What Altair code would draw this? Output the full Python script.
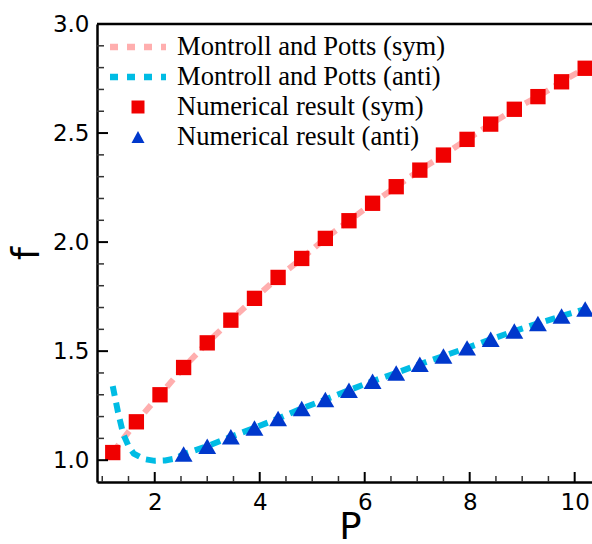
import altair as alt
import pandas as pd

# ---- data -------------------------------------------------------------
series = [
    "Montroll and Potts (sym)",
    "Montroll and Potts (anti)",
    "Numerical result (sym)",
    "Numerical result (anti)",
]
colors = ["#FFAEAE", "#00BCE4", "#F00000", "#0038CC"]

# numerical results
p_sym = [1.2, 1.65, 2.1, 2.55, 3.0, 3.45, 3.9, 4.35, 4.8, 5.25, 5.7,
         6.15, 6.6, 7.05, 7.5, 7.95, 8.4, 8.85, 9.3, 9.75, 10.2]
f_sym = [1.035, 1.176, 1.300, 1.425, 1.538, 1.642, 1.742, 1.838, 1.925, 2.017, 2.098,
         2.178, 2.254, 2.330, 2.399, 2.471, 2.541, 2.609, 2.667, 2.735, 2.797]

p_anti = [2.55, 3.0, 3.45, 3.9, 4.35, 4.8, 5.25, 5.7, 6.15, 6.6, 7.05,
          7.5, 7.95, 8.4, 8.85, 9.3, 9.75, 10.2]
f_anti = [1.028, 1.064, 1.107, 1.148, 1.191, 1.237, 1.278, 1.321, 1.362, 1.400, 1.440,
          1.478, 1.515, 1.554, 1.592, 1.627, 1.661, 1.693]

# Montroll and Potts curves
mp_sym_p = [1.2, 1.65, 2.1, 2.55, 3.0, 3.45, 3.9, 4.35, 4.8, 5.25, 5.7,
            6.15, 6.6, 7.05, 7.5, 7.95, 8.4, 8.85, 9.3, 9.75, 10.2]
mp_sym_f = [1.035, 1.176, 1.300, 1.425, 1.538, 1.642, 1.742, 1.838, 1.925, 2.017, 2.098,
            2.178, 2.254, 2.330, 2.399, 2.471, 2.541, 2.609, 2.667, 2.735, 2.797]

mp_anti_p = [1.2, 1.3, 1.4, 1.5, 1.6, 1.8, 2.0, 2.2, 2.4,
             2.55, 3.0, 3.45, 3.9, 4.35, 4.8, 5.25, 5.7, 6.15, 6.6, 7.05,
             7.5, 7.95, 8.4, 8.85, 9.3, 9.75, 10.2]
mp_anti_f = [1.34, 1.22, 1.12, 1.065, 1.03, 1.005, 0.997, 0.999, 1.008,
             1.028, 1.064, 1.107, 1.148, 1.191, 1.237, 1.278, 1.321, 1.362, 1.400, 1.440,
             1.478, 1.515, 1.554, 1.592, 1.627, 1.661, 1.693]

x_major = [2, 4, 6, 8, 10]
x_minor = [1.0, 1.5, 2.5, 3.0, 3.5, 4.5, 5.0, 5.5, 6.5, 7.0, 7.5, 8.5, 9.0, 9.5]
y_major = [1.0, 1.5, 2.0, 2.5, 3.0]
y_minor = [1.1, 1.2, 1.3, 1.4, 1.6, 1.7, 1.8, 1.9, 2.1, 2.2, 2.3, 2.4, 2.6, 2.7, 2.8, 2.9]

# ---- tables -----------------------------------------------------------
mp_sym_df = pd.DataFrame({"P": mp_sym_p, "f": mp_sym_f})
mp_anti_df = pd.DataFrame({"P": mp_anti_p, "f": mp_anti_f})
sym_df = pd.DataFrame({"P": p_sym, "f": f_sym})
anti_df = pd.DataFrame({"P": p_anti, "f": f_anti})
legend_df = pd.DataFrame({"P": [2.0] * 4, "f": [2.0] * 4, "series": series})

# ---- layout -----------------------------------------------------------
W, H = 495, 458
FONT = "DejaVu Sans"

xs = alt.Scale(domain=[0.9, 10.33], nice=False, zero=False)
ys = alt.Scale(domain=[0.9, 3.0], nice=False, zero=False)
color_scale = alt.Scale(domain=series, range=colors)

# legend glyphs (unit = 15 px): dashed bars for the curves,
# square and triangle for the numerical points
dash_path = ("M-1.867,-0.22H-1.333V0.22H-1.867Z M-0.733,-0.22H-0.2V0.22H-0.733Z "
             "M0.4,-0.22H0.933V0.22H0.4Z M1.533,-0.22H1.867V0.22H1.533Z")
square_path = "M-0.433,-0.433H0.433V0.433H-0.433Z"
tri_path = "M0,-0.4L0.433,0.4L-0.433,0.4Z"
shape_scale = alt.Scale(domain=series, range=[dash_path, dash_path, square_path, tri_path])

x_axis = alt.Axis(
    values=x_major, format="d", ticks=False, tickSize=0, grid=False,
    labelFont=FONT, labelFontSize=23, labelColor="black", labelPadding=9,
    labelFlush=False, labelOverlap=False,
    domainColor="black", domainWidth=2.5,
    title="P", titleFont=FONT, titleFontSize=37, titleFontWeight="normal",
    titleColor="black", titleX=253, titleY=56, titleAlign="center",
    titleBaseline="alphabetic",
)
y_axis = alt.Axis(
    values=y_major, format=".1f", ticks=False, tickSize=0, grid=False,
    labelFont=FONT, labelFontSize=23, labelColor="black", labelPadding=8,
    labelFlush=False, labelOverlap=False,
    domainColor="black", domainWidth=2.5,
    title="f", titleFont=FONT, titleFontSize=37, titleFontWeight="normal",
    titleColor="black", titleX=-70, titleY=229, titleAlign="center",
    titleBaseline="middle", titleAngle=270,
)

X = alt.X("P:Q", scale=xs, axis=x_axis)
Y = alt.Y("f:Q", scale=ys, axis=y_axis)

curve_sym = alt.Chart(mp_sym_df).mark_line(
    strokeWidth=6, strokeDash=[10, 7], color=colors[0]
).encode(x=X, y=Y)
curve_anti = alt.Chart(mp_anti_df).mark_line(
    strokeWidth=6, strokeDash=[10, 7], color=colors[1]
).encode(x=X, y=Y)
squares = alt.Chart(sym_df).mark_point(
    shape="square", filled=True, size=235, opacity=1, color=colors[2]
).encode(x=X, y=Y)
triangles = alt.Chart(anti_df).mark_point(
    shape="triangle-up", filled=True, size=320, opacity=1, color=colors[3]
).encode(x=X, y=Y)

legend = alt.Legend(
    title=None, orient="none", legendX=26, legendY=8,
    symbolSize=900, symbolStrokeWidth=0, symbolOpacity=1,
    labelFont="Liberation Serif", labelFontSize=26.6, labelColor="black",
    labelOffset=24, labelLimit=500, rowPadding=1, padding=0,
)
# legend-only layer: its rows are filtered out so nothing is drawn in the plot
key = alt.Chart(legend_df).mark_point(filled=True, opacity=1).encode(
    x=X, y=Y,
    color=alt.Color("series:N", scale=color_scale, legend=legend),
    shape=alt.Shape("series:N", scale=shape_scale, legend=legend),
).transform_filter("false")

# inward tick marks
xt_major = alt.Chart(pd.DataFrame({"P": x_major})).mark_rule(
    color="black", strokeWidth=2
).encode(x=X, y=alt.value(H), y2=alt.value(H - 10))
xt_minor = alt.Chart(pd.DataFrame({"P": x_minor})).mark_rule(
    color="#333333", strokeWidth=1.5
).encode(x=X, y=alt.value(H), y2=alt.value(H - 6))
yt_major = alt.Chart(pd.DataFrame({"f": y_major})).mark_rule(
    color="black", strokeWidth=2
).encode(y=Y, x=alt.value(0), x2=alt.value(11))
yt_minor = alt.Chart(pd.DataFrame({"f": y_minor})).mark_rule(
    color="#333333", strokeWidth=1.5
).encode(y=Y, x=alt.value(0), x2=alt.value(7))

# top frame line
top = alt.Chart(pd.DataFrame({"k": [0]})).mark_rule(
    color="black", strokeWidth=2.5
).encode(x=alt.value(0), x2=alt.value(W), y=alt.value(0))

chart = alt.layer(
    curve_sym, curve_anti, squares, triangles, key,
    xt_major, xt_minor, yt_major, yt_minor, top,
).properties(
    width=W, height=H,
    padding={"left": 97, "top": 24, "right": 0, "bottom": 62},
    autosize=alt.AutoSizeParams(type="none"),
    background="white",
).configure_view(stroke=None)

chart.save("out.html", embed_options={"renderer": "svg", "actions": False})
